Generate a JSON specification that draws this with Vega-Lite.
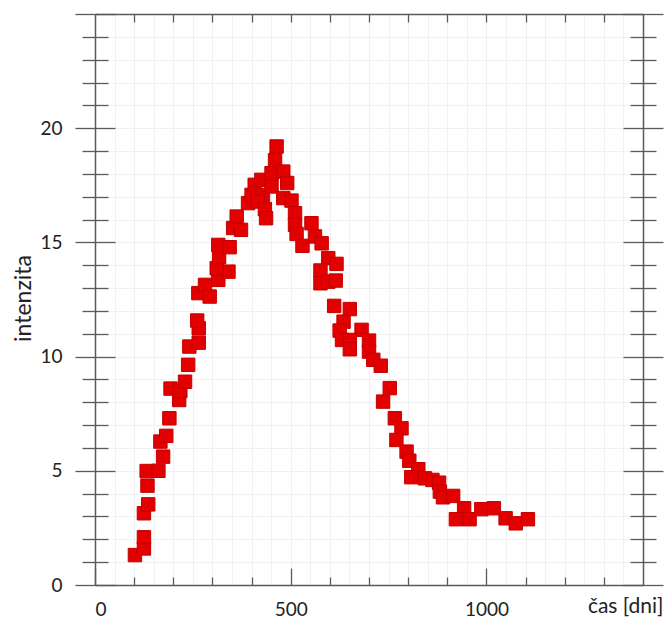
{
  "$schema": "https://vega.github.io/schema/vega-lite/v6.json",
  "autosize": "none",
  "width": 548,
  "height": 571,
  "padding": {"left": 95, "top": 14, "right": 26, "bottom": 33},
  "background": "white",
  "config": {
    "view": {"stroke": null},
    "font": "Lato",
    "axis": {
      "domainColor": "#5a5a5a",
      "domainWidth": 1.5,
      "tickColor": "#5a5a5a",
      "tickWidth": 1.3,
      "labelFont": "Lato",
      "labelFontSize": 19,
      "labelColor": "#222222",
      "titleFont": "Lato",
      "titleFontSize": 22,
      "titleFontWeight": "normal",
      "titleColor": "#222222",
      "gridColor": "#f1f1f1",
      "gridWidth": 1
    }
  },
  "data": {
    "values": [
      {"cas": 102, "intenzita": 1.31}, {"cas": 125, "intenzita": 1.6}, {"cas": 125, "intenzita": 2.09},
      {"cas": 125, "intenzita": 3.14}, {"cas": 136, "intenzita": 3.53}, {"cas": 134, "intenzita": 4.35},
      {"cas": 132, "intenzita": 4.99}, {"cas": 162, "intenzita": 5.0}, {"cas": 174, "intenzita": 5.62},
      {"cas": 167, "intenzita": 6.28}, {"cas": 182, "intenzita": 6.53}, {"cas": 190, "intenzita": 7.3},
      {"cas": 193, "intenzita": 8.6}, {"cas": 215, "intenzita": 8.1}, {"cas": 218, "intenzita": 8.5},
      {"cas": 230, "intenzita": 8.9}, {"cas": 238, "intenzita": 9.64}, {"cas": 241, "intenzita": 10.44},
      {"cas": 265, "intenzita": 10.61}, {"cas": 265, "intenzita": 11.24}, {"cas": 261, "intenzita": 11.58},
      {"cas": 264, "intenzita": 12.78}, {"cas": 281, "intenzita": 13.14}, {"cas": 293, "intenzita": 12.63},
      {"cas": 315, "intenzita": 13.36}, {"cas": 341, "intenzita": 13.72}, {"cas": 311, "intenzita": 13.87},
      {"cas": 317, "intenzita": 14.35}, {"cas": 315, "intenzita": 14.89}, {"cas": 344, "intenzita": 14.79},
      {"cas": 353, "intenzita": 15.63}, {"cas": 373, "intenzita": 15.55}, {"cas": 362, "intenzita": 16.13},
      {"cas": 391, "intenzita": 16.72}, {"cas": 400, "intenzita": 17.08}, {"cas": 408, "intenzita": 17.52},
      {"cas": 425, "intenzita": 17.74}, {"cas": 429, "intenzita": 17.08}, {"cas": 416, "intenzita": 16.79},
      {"cas": 434, "intenzita": 16.46}, {"cas": 437, "intenzita": 16.06}, {"cas": 451, "intenzita": 17.45},
      {"cas": 451, "intenzita": 18.03}, {"cas": 460, "intenzita": 18.6}, {"cas": 464, "intenzita": 19.2},
      {"cas": 481, "intenzita": 18.1}, {"cas": 491, "intenzita": 17.6}, {"cas": 481, "intenzita": 16.94},
      {"cas": 502, "intenzita": 16.83}, {"cas": 511, "intenzita": 16.28}, {"cas": 511, "intenzita": 15.77},
      {"cas": 515, "intenzita": 15.37}, {"cas": 530, "intenzita": 14.85}, {"cas": 553, "intenzita": 15.84},
      {"cas": 562, "intenzita": 15.26}, {"cas": 579, "intenzita": 14.96}, {"cas": 596, "intenzita": 14.31},
      {"cas": 617, "intenzita": 14.06}, {"cas": 576, "intenzita": 13.77}, {"cas": 576, "intenzita": 13.21},
      {"cas": 596, "intenzita": 13.28}, {"cas": 615, "intenzita": 13.33}, {"cas": 611, "intenzita": 12.22},
      {"cas": 651, "intenzita": 12.08}, {"cas": 635, "intenzita": 11.53}, {"cas": 625, "intenzita": 11.14},
      {"cas": 681, "intenzita": 11.17}, {"cas": 631, "intenzita": 10.73}, {"cas": 651, "intenzita": 10.73},
      {"cas": 651, "intenzita": 10.32}, {"cas": 700, "intenzita": 10.7}, {"cas": 700, "intenzita": 10.22},
      {"cas": 711, "intenzita": 9.86}, {"cas": 730, "intenzita": 9.6}, {"cas": 753, "intenzita": 8.62},
      {"cas": 736, "intenzita": 8.03}, {"cas": 766, "intenzita": 7.3}, {"cas": 783, "intenzita": 6.86},
      {"cas": 770, "intenzita": 6.35}, {"cas": 796, "intenzita": 5.84}, {"cas": 803, "intenzita": 5.44},
      {"cas": 826, "intenzita": 5.07}, {"cas": 808, "intenzita": 4.72}, {"cas": 843, "intenzita": 4.67},
      {"cas": 862, "intenzita": 4.6}, {"cas": 879, "intenzita": 4.48}, {"cas": 881, "intenzita": 4.09},
      {"cas": 889, "intenzita": 3.84}, {"cas": 915, "intenzita": 3.9}, {"cas": 943, "intenzita": 3.36},
      {"cas": 922, "intenzita": 2.88}, {"cas": 957, "intenzita": 2.88}, {"cas": 987, "intenzita": 3.32},
      {"cas": 1019, "intenzita": 3.36}, {"cas": 1049, "intenzita": 2.92}, {"cas": 1075, "intenzita": 2.7},
      {"cas": 1106, "intenzita": 2.88}
    ]
  },
  "resolve": {"axis": {"x": "independent", "y": "independent"}},
  "layer": [
    {
      "mark": {"type": "point", "shape": "square", "filled": true, "size": 180, "color": "#e30000", "stroke": "#c40000", "strokeWidth": 1, "opacity": 1},
      "encoding": {
        "x": {"field": "cas", "type": "quantitative", "scale": {"domain": [0, 1400], "nice": false, "zero": false},
          "axis": {"orient": "bottom", "values": [0, 500, 1000], "format": "d", "tickSize": -17, "labelPadding": 32, "grid": false, "domain": true,
            "title": "čas [dni]", "titleFontSize": 21, "titleAnchor": null, "titleX": 568, "titleY": 27, "titleAlign": "right", "titleBaseline": "alphabetic"}},
        "y": {"field": "intenzita", "type": "quantitative", "scale": {"domain": [0, 25], "nice": false, "zero": false},
          "axis": {"orient": "left", "values": [0, 5, 10, 15, 20, 25], "labelExpr": "datum.value == 25 ? '' : datum.label", "tickSize": 20, "labelPadding": 13, "grid": false, "domain": true,
            "title": "intenzita", "titleAngle": 270, "titleFontSize": 23, "titleX": -65, "titleY": 284, "titleAlign": "center", "titleBaseline": "alphabetic"}}
      }
    },
    {
      "mark": {"type": "point", "opacity": 0},
      "encoding": {
        "x": {"field": "cas", "type": "quantitative", "scale": {"domain": [0, 1400], "nice": false, "zero": false},
          "axis": {"orient": "bottom", "values": [100, 200, 300, 400, 600, 700, 800, 900, 1100, 1200, 1300], "tickSize": -8, "labels": false, "domain": false, "grid": false, "title": null}},
        "y": {"field": "intenzita", "type": "quantitative", "scale": {"domain": [0, 25], "nice": false, "zero": false},
          "axis": {"orient": "left", "values": [0, 5, 10, 15, 20, 25], "tickSize": -20, "labels": false, "domain": false, "grid": false, "title": null}}
      }
    },
    {
      "mark": {"type": "point", "opacity": 0},
      "encoding": {
        "x": {"field": "cas", "type": "quantitative", "scale": {"domain": [0, 1400], "nice": false, "zero": false},
          "axis": {"orient": "top", "values": [100, 200, 300, 400, 500, 600, 700, 800, 900, 1000, 1100, 1200, 1300], "tickSize": -8, "labels": false, "domain": true, "grid": false, "title": null}},
        "y": {"field": "intenzita", "type": "quantitative", "scale": {"domain": [0, 25], "nice": false, "zero": false},
          "axis": {"orient": "left", "values": [1, 2, 3, 4, 6, 7, 8, 9, 11, 12, 13, 14, 16, 17, 18, 19, 21, 22, 23, 24], "tickSize": 13, "labels": false, "domain": false, "grid": false, "title": null}}
      }
    },
    {
      "mark": {"type": "point", "opacity": 0},
      "encoding": {
        "x": {"field": "cas", "type": "quantitative", "scale": {"domain": [0, 1400], "nice": false, "zero": false},
          "axis": {"orient": "bottom", "values": [50, 100, 150, 200, 250, 300, 350, 400, 450, 500, 550, 600, 650, 700, 750, 800, 850, 900, 950, 1000, 1050, 1100, 1150, 1200, 1250, 1300, 1350], "ticks": false, "labels": false, "domain": false, "grid": true, "title": null}},
        "y": {"field": "intenzita", "type": "quantitative", "scale": {"domain": [0, 25], "nice": false, "zero": false},
          "axis": {"orient": "left", "values": [1, 2, 3, 4, 6, 7, 8, 9, 11, 12, 13, 14, 16, 17, 18, 19, 21, 22, 23, 24], "tickSize": -13, "labels": false, "domain": false, "grid": false, "title": null}}
      }
    },
    {
      "mark": {"type": "point", "opacity": 0},
      "encoding": {
        "x": {"field": "cas", "type": "quantitative", "scale": {"domain": [0, 1400], "nice": false, "zero": false}, "axis": null},
        "y": {"field": "intenzita", "type": "quantitative", "scale": {"domain": [0, 25], "nice": false, "zero": false},
          "axis": {"orient": "right", "values": [0, 5, 10, 15, 20, 25], "tickSize": 20, "labels": false, "domain": true, "grid": false, "title": null}}
      }
    },
    {
      "mark": {"type": "point", "opacity": 0},
      "encoding": {
        "x": {"field": "cas", "type": "quantitative", "scale": {"domain": [0, 1400], "nice": false, "zero": false}, "axis": null},
        "y": {"field": "intenzita", "type": "quantitative", "scale": {"domain": [0, 25], "nice": false, "zero": false},
          "axis": {"orient": "right", "values": [0, 5, 10, 15, 20, 25], "tickSize": -20, "labels": false, "domain": false, "grid": false, "title": null}}
      }
    },
    {
      "mark": {"type": "point", "opacity": 0},
      "encoding": {
        "x": {"field": "cas", "type": "quantitative", "scale": {"domain": [0, 1400], "nice": false, "zero": false}, "axis": null},
        "y": {"field": "intenzita", "type": "quantitative", "scale": {"domain": [0, 25], "nice": false, "zero": false},
          "axis": {"orient": "right", "values": [1, 2, 3, 4, 6, 7, 8, 9, 11, 12, 13, 14, 16, 17, 18, 19, 21, 22, 23, 24], "tickSize": 13, "labels": false, "domain": false, "grid": false, "title": null}}
      }
    },
    {
      "mark": {"type": "point", "opacity": 0},
      "encoding": {
        "x": {"field": "cas", "type": "quantitative", "scale": {"domain": [0, 1400], "nice": false, "zero": false}, "axis": null},
        "y": {"field": "intenzita", "type": "quantitative", "scale": {"domain": [0, 25], "nice": false, "zero": false},
          "axis": {"orient": "right", "values": [1, 2, 3, 4, 6, 7, 8, 9, 11, 12, 13, 14, 16, 17, 18, 19, 21, 22, 23, 24], "tickSize": -13, "labels": false, "domain": false, "grid": false, "title": null}}
      }
    },
    {
      "mark": {"type": "point", "opacity": 0},
      "encoding": {
        "x": {"field": "cas", "type": "quantitative", "scale": {"domain": [0, 1400], "nice": false, "zero": false}, "axis": null},
        "y": {"field": "intenzita", "type": "quantitative", "scale": {"domain": [0, 25], "nice": false, "zero": false},
          "axis": {"orient": "left", "values": [1, 2, 3, 4, 5, 6, 7, 8, 9, 10, 11, 12, 13, 14, 15, 16, 17, 18, 19, 20, 21, 22, 23, 24], "ticks": false, "labels": false, "domain": false, "grid": true, "title": null}}
      }
    }
  ]
}
